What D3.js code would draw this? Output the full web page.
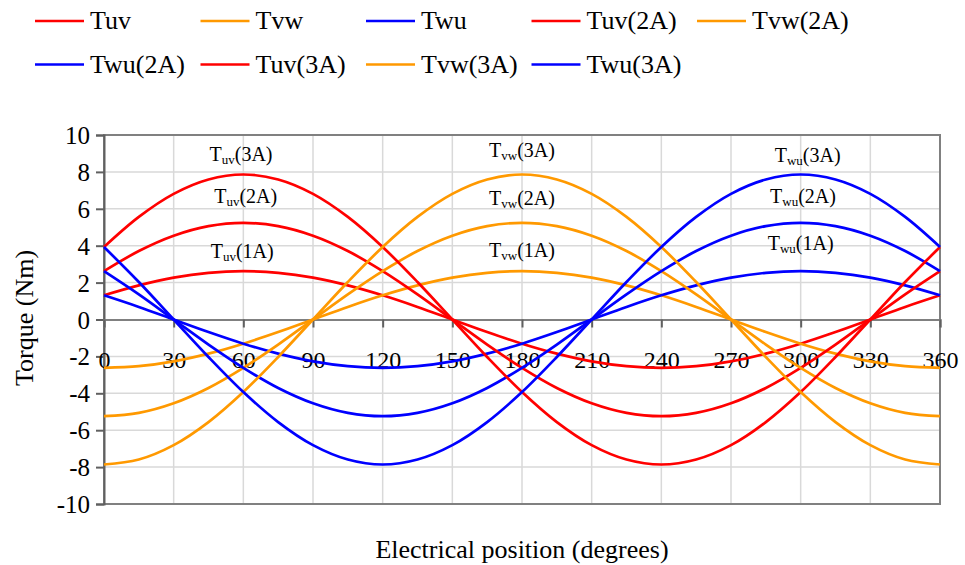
<!DOCTYPE html>
<html>
<head>
<meta charset="utf-8">
<script src="https://cdn.jsdelivr.net/npm/d3@7"></script>
<style>
  body { margin: 0; background: #fff; }
  svg text { font-family: "Liberation Serif", "Times New Roman", serif; fill: #000; }
</style>
</head>
<body>
<div id="chart"></div>
<script>
// electrical position, every 15 degrees
var angles = d3.range(0, 361, 15)
var xTicks = d3.range(0, 361, 30)
var yTicks = d3.range(-10, 11, 2)

// torque values (Nm)
var tuv1 = [1.31,1.85,2.27,2.53,2.62,2.53,2.27,1.85,1.31,0.68,0,-0.68,-1.31,-1.85,-2.27,-2.53,-2.62,-2.53,-2.27,-1.85,-1.31,-0.68,0,0.68,1.31]
var tvw1 = [-2.62,-2.53,-2.27,-1.85,-1.31,-0.68,0,0.68,1.31,1.85,2.27,2.53,2.62,2.53,2.27,1.85,1.31,0.68,0,-0.68,-1.31,-1.85,-2.27,-2.53,-2.62]
var twu1 = [1.31,0.68,0,-0.68,-1.31,-1.85,-2.27,-2.53,-2.62,-2.53,-2.27,-1.85,-1.31,-0.68,0,0.68,1.31,1.85,2.27,2.53,2.62,2.53,2.27,1.85,1.31]
var tuv2 = [2.62,3.71,4.54,5.06,5.24,5.06,4.54,3.71,2.62,1.36,0,-1.36,-2.62,-3.71,-4.54,-5.06,-5.24,-5.06,-4.54,-3.71,-2.62,-1.36,0,1.36,2.62]
var tvw2 = [-5.24,-5.06,-4.54,-3.71,-2.62,-1.36,0,1.36,2.62,3.71,4.54,5.06,5.24,5.06,4.54,3.71,2.62,1.36,0,-1.36,-2.62,-3.71,-4.54,-5.06,-5.24]
var twu2 = [2.62,1.36,0,-1.36,-2.62,-3.71,-4.54,-5.06,-5.24,-5.06,-4.54,-3.71,-2.62,-1.36,0,1.36,2.62,3.71,4.54,5.06,5.24,5.06,4.54,3.71,2.62]
var tuv3 = [3.93,5.56,6.81,7.59,7.86,7.59,6.81,5.56,3.93,2.03,0,-2.03,-3.93,-5.56,-6.81,-7.59,-7.86,-7.59,-6.81,-5.56,-3.93,-2.03,0,2.03,3.93]
var tvw3 = [-7.86,-7.59,-6.81,-5.56,-3.93,-2.03,0,2.03,3.93,5.56,6.81,7.59,7.86,7.59,6.81,5.56,3.93,2.03,0,-2.03,-3.93,-5.56,-6.81,-7.59,-7.86]
var twu3 = [3.93,2.03,0,-2.03,-3.93,-5.56,-6.81,-7.59,-7.86,-7.59,-6.81,-5.56,-3.93,-2.03,0,2.03,3.93,5.56,6.81,7.59,7.86,7.59,6.81,5.56,3.93]

var seriesNames = ["Tuv","Tvw","Twu","Tuv(2A)","Tvw(2A)","Twu(2A)","Tuv(3A)","Tvw(3A)","Twu(3A)"]
var seriesValues = [tuv1, tvw1, twu1, tuv2, tvw2, twu2, tuv3, tvw3, twu3]
var colors = {u: "#ff0000", v: "#ff9900", w: "#0000ff"}
var seriesColors = ["u","v","w","u","v","w","u","v","w"].map(function(k){ return colors[k] })

// in-plot labels: [main, subscript, suffix, angle, value]
var notes = [
  ["T","uv","(3A)",59,8.6], ["T","uv","(2A)",61,6.34], ["T","uv","(1A)",59.5,3.34],
  ["T","vw","(3A)",180,8.83], ["T","vw","(2A)",180,6.21], ["T","vw","(1A)",180,3.39],
  ["T","wu","(3A)",303,8.56], ["T","wu","(2A)",301,6.32], ["T","wu","(1A)",300,3.77]
]

var W = 965, H = 565
var pLeft = 104, pRight = 940, pTop = 135, pBottom = 504

var svg = d3.select("#chart").append("svg")
  .attr("width", W)
  .attr("height", H)

var x = d3.scaleLinear().domain([0, 360]).range([pLeft, pRight])
var y = d3.scaleLinear().domain([-10, 10]).range([pBottom, pTop])

// grid
svg.append("g").selectAll("line.h")
  .data(yTicks.filter(function(d){ return d !== 0 && d !== 10 && d !== -10 }))
  .enter().append("line")
  .attr("x1", pLeft).attr("x2", pRight)
  .attr("y1", function(d){ return y(d) }).attr("y2", function(d){ return y(d) })
  .attr("stroke", "#d9d9d9").attr("stroke-width", 1.5)
svg.append("g").selectAll("line.v")
  .data(xTicks.filter(function(d){ return d !== 0 && d !== 360 }))
  .enter().append("line")
  .attr("x1", function(d){ return x(d) }).attr("x2", function(d){ return x(d) })
  .attr("y1", pTop).attr("y2", pBottom)
  .attr("stroke", "#d9d9d9").attr("stroke-width", 1.5)

// plot border
svg.append("rect")
  .attr("x", pLeft).attr("y", pTop)
  .attr("width", pRight - pLeft).attr("height", pBottom - pTop)
  .attr("fill", "none").attr("stroke", "#808080").attr("stroke-width", 2)

var plain = function(d){ return String(d) }

// y axis
var yAxis = svg.append("g")
  .attr("transform", "translate(" + pLeft + ",0)")
  .call(d3.axisLeft(y).tickValues(yTicks).tickFormat(plain).tickSize(8).tickPadding(6))
yAxis.attr("font-family", null).attr("font-size", null)
yAxis.select(".domain").attr("stroke", "#606060").attr("stroke-width", 2)
yAxis.selectAll(".tick line").attr("stroke", "#606060").attr("stroke-width", 2)
yAxis.selectAll("text")
  .attr("font-size", 25)
  .attr("dy", "0.34em")

// x axis at zero
var xAxis = svg.append("g")
  .attr("transform", "translate(0," + y(0) + ")")
  .call(d3.axisBottom(x).tickValues(xTicks).tickFormat(plain).tickSize(8))
xAxis.attr("font-family", null).attr("font-size", null)
xAxis.select(".domain").attr("stroke", "#808080").attr("stroke-width", 2)
xAxis.selectAll(".tick line").attr("stroke", "#606060").attr("stroke-width", 2)
xAxis.selectAll("text")
  .attr("font-size", 24)
  .attr("y", 48)
  .attr("dy", null)

// curves
var line = d3.line()
  .x(function(d, i){ return x(angles[i]) })
  .y(function(d){ return y(d) })
  .curve(d3.curveCatmullRom)

svg.append("g").selectAll("path")
  .data(seriesValues)
  .enter().append("path")
  .attr("d", line)
  .attr("fill", "none")
  .attr("stroke", function(d, i){ return seriesColors[i] })
  .attr("stroke-width", 2.7)

// in-plot labels
var noteText = svg.append("g").selectAll("text")
  .data(notes)
  .enter().append("text")
  .attr("x", function(d){ return x(d[3]) })
  .attr("y", function(d){ return y(d[4]) })
  .attr("text-anchor", "middle")
  .attr("font-size", 20)
noteText.append("tspan").text(function(d){ return d[0] })
noteText.append("tspan").attr("font-size", 13).attr("dy", 3).text(function(d){ return d[1] })
noteText.append("tspan").attr("dy", -3).text(function(d){ return d[2] })

// axis titles
svg.append("text")
  .attr("transform", "translate(33,318) rotate(-90)")
  .attr("text-anchor", "middle")
  .attr("font-size", 26)
  .text("Torque (Nm)")
svg.append("text")
  .attr("x", 522).attr("y", 558)
  .attr("text-anchor", "middle")
  .attr("font-size", 26)
  .text("Electrical position (degrees)")

// legend, five per row
var legend = svg.append("g").selectAll("g")
  .data(seriesNames)
  .enter().append("g")
  .attr("transform", function(d, i){
    var col = i % 5, row = Math.floor(i / 5)
    return "translate(" + (35 + col * 165.5) + "," + (21 + row * 43.5) + ")"
  })
legend.append("line")
  .attr("x1", 0).attr("x2", 49)
  .attr("stroke", function(d, i){ return seriesColors[i] })
  .attr("stroke-width", 2.7)
legend.append("text")
  .attr("x", 55).attr("y", 8)
  .attr("font-size", 26)
  .text(function(d){ return d })
</script>
</body>
</html>
